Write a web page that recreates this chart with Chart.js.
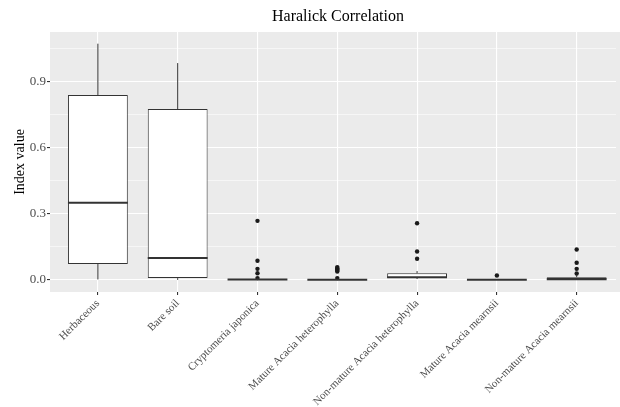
<!DOCTYPE html>
<html>
<head>
<meta charset="utf-8">
<script src="https://cdn.jsdelivr.net/npm/chart.js@4.4.0/dist/chart.umd.min.js"></script>
<style>
  body { margin: 0; background: #fff; }
  canvas { display: block; }
</style>
</head>
<body>
<canvas id="chart" width="620" height="407"></canvas>
<script>
// boxplot stats
var categories = ['Herbaceous', 'Bare soil', 'Cryptomeria japonica', 'Mature Acacia heterophylla',
    'Non-mature Acacia heterophylla', 'Mature Acacia mearnsii', 'Non-mature Acacia mearnsii'];
var whiskerLow  = [0.002, 0.000, 0.000, 0.000, 0.004, 0.000, 0.000];
var q1          = [0.072, 0.008, 0.000, 0.000, 0.009, 0.000, 0.000];
var median      = [0.350, 0.099, 0.002, 0.001, 0.012, 0.001, 0.003];
var q3          = [0.839, 0.775, 0.004, 0.003, 0.030, 0.003, 0.012];
var whiskerHigh = [1.072, 0.984, 0.006, 0.005, 0.040, 0.004, 0.024];
var outliers = [[], [], [0.268, 0.087, 0.050, 0.030, 0.008],
    [0.058, 0.053, 0.048, 0.043, 0.038, 0.008],
    [0.257, 0.129, 0.096], [0.020], [0.138, 0.078, 0.050, 0.029]];
var yTicks = [0, 0.15, 0.3, 0.45, 0.6, 0.75, 0.9, 1.05];
var majorTicks = [0, 0.3, 0.6, 0.9];

var SERIF = '"Liberation Serif", "DejaVu Serif", serif';

function isMajor(v) {
    return majorTicks.some(function (m) { return Math.abs(m - v) < 1e-6; });
}

var boxes = categories.map(function (c, i) { return [q1[i], q3[i]]; });
var points = [];
outliers.forEach(function (list, i) {
    list.forEach(function (v) { points.push({ x: categories[i], y: v }); });
});

// grey panel behind everything
var panelBg = {
    id: 'panelBg',
    beforeDraw: function (chart) {
        var a = chart.chartArea, ctx = chart.ctx;
        ctx.save();
        ctx.fillStyle = '#EBEBEB';
        ctx.fillRect(a.left, a.top, 620 - a.left, a.bottom - a.top);
        ctx.restore();
    }
};

// whiskers + medians, positioned with the chart's scales
var boxExtras = {
    id: 'boxExtras',
    afterDatasetDraw: function (chart, args) {
        if (args.index !== 0) return;
        var ctx = chart.ctx, x = chart.scales.x, y = chart.scales.y;
        var meta = chart.getDatasetMeta(0);
        ctx.save();
        ctx.strokeStyle = '#333333';
        for (var i = 0; i < categories.length; i++) {
            var bar = meta.data[i];
            var cx = x.getPixelForValue(i);
            var half = bar.width / 2;
            ctx.lineWidth = 1;
            ctx.beginPath();
            ctx.moveTo(cx, y.getPixelForValue(q3[i]));
            ctx.lineTo(cx, y.getPixelForValue(whiskerHigh[i]));
            ctx.moveTo(cx, y.getPixelForValue(q1[i]));
            ctx.lineTo(cx, y.getPixelForValue(whiskerLow[i]));
            ctx.stroke();
            ctx.lineWidth = 2;
            ctx.beginPath();
            var my = y.getPixelForValue(median[i]);
            ctx.moveTo(cx - half, my);
            ctx.lineTo(cx + half, my);
            ctx.stroke();
        }
        ctx.restore();
    }
};

// title centred over the plot
var panelTitle = {
    id: 'panelTitle',
    afterDraw: function (chart) {
        var ctx = chart.ctx;
        ctx.save();
        ctx.fillStyle = '#000';
        ctx.font = '16px ' + SERIF;
        ctx.textAlign = 'center';
        ctx.textBaseline = 'middle';
        ctx.fillText('Haralick Correlation', 338, 17);
        ctx.restore();
    }
};

new Chart(document.getElementById('chart'), {
    type: 'bar',
    data: {
        labels: categories,
        datasets: [{
            type: 'bar',
            data: boxes,
            backgroundColor: '#FFFFFF',
            borderColor: '#333333',
            borderWidth: 1,
            borderSkipped: false,
            barPercentage: 0.75,
            categoryPercentage: 1
        }, {
            type: 'scatter',
            data: points,
            backgroundColor: '#1a1a1a',
            borderColor: '#1a1a1a',
            pointRadius: 2.2,
            pointBorderWidth: 0
        }]
    },
    options: {
        responsive: false,
        animation: false,
        devicePixelRatio: 1,
        layout: { padding: { top: 32, right: 0, left: 0, bottom: 0 } },
        plugins: {
            legend: { display: false },
            tooltip: { enabled: false },
            title: { display: false }
        },
        scales: {
            x: {
                type: 'category',
                offset: false,
                border: { display: false },
                // ggplot-style 0.6 expansion on the left, ~80px per category; plot is cut at the right edge
                afterBuildTicks: function (scale) {
                    scale._startValue = -0.6;
                    scale._valueRange = 7.14;
                },
                afterUpdate: function (scale) {
                    scale._startValue = -0.6;
                    scale._valueRange = (scale.right - scale.left) / 79.8;
                },
                grid: {
                    offset: false,
                    color: '#FFFFFF',
                    lineWidth: 1.1,
                    tickColor: '#333333',
                    tickLength: 3
                },
                ticks: {
                    maxRotation: 45,
                    minRotation: 45,
                    autoSkip: false,
                    padding: 2,
                    color: '#4D4D4D',
                    font: { family: SERIF, size: 11 }
                },
                afterFit: function (scale) { scale.height = 115; }
            },
            y: {
                min: -0.055,
                max: 1.125,
                border: { display: false },
                afterBuildTicks: function (scale) {
                    scale.ticks = yTicks.map(function (v) { return { value: v }; });
                },
                grid: {
                    color: '#FFFFFF',
                    lineWidth: function (c) { return isMajor(c.tick.value) ? 1.1 : 0.55; },
                    tickColor: function (c) { return isMajor(c.tick.value) ? '#333333' : 'rgba(0,0,0,0)'; },
                    tickLength: 3
                },
                ticks: {
                    padding: 1,
                    color: '#4D4D4D',
                    font: { family: SERIF, size: 13 },
                    callback: function (v) { return isMajor(v) ? v.toFixed(1) : ''; }
                },
                title: {
                    display: true,
                    text: 'Index value',
                    color: '#000',
                    font: { family: SERIF, size: 14 },
                    padding: { top: 12, bottom: 0 }
                },
                afterFit: function (scale) { scale.width = 50; }
            }
        }
    },
    plugins: [panelBg, boxExtras, panelTitle]
});
</script>
</body>
</html>
